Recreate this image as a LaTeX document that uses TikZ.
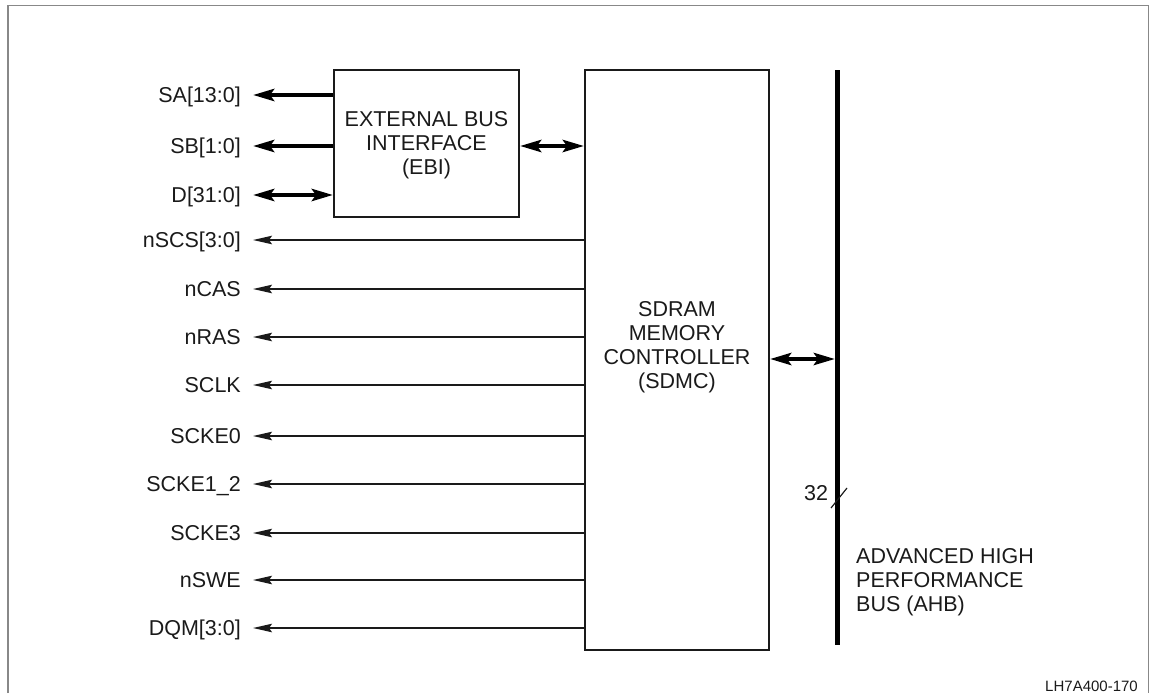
\documentclass[tikz,border=0pt]{standalone}
\usepackage{fontspec}
\setmainfont{Liberation Sans}
\usetikzlibrary{arrows.meta}
\definecolor{ink}{HTML}{1A1A1A}
\definecolor{framegray}{HTML}{888888}
\tikzset{
  box/.style={draw=ink, line width=2pt, inner sep=0pt},
  lbl/.style={anchor=east, inner sep=0pt, text=ink, font=\fontsize{21.5}{24}\selectfont, text height=15.5pt, text depth=0pt},
  txt/.style={inner sep=0pt, text=ink, align=center, font=\fontsize{21.5}{24}\selectfont},
  thickarr/.style={line width=4.5pt, -{Stealth[length=21pt,width=12pt,inset=4pt]}},
  thickbi/.style={line width=4.5pt, {Stealth[length=21pt,width=12pt,inset=4pt]}-{Stealth[length=21pt,width=12pt,inset=4pt]}},
  thinarr/.style={draw=ink, line width=1.6pt, -{Stealth[length=19pt,width=8.5pt,inset=3pt]}},
  busline/.style={line width=5pt, draw=black},
  framestyle/.style={draw=framegray, line width=1.5pt}
}
\begin{document}
\begin{tikzpicture}[x=1pt,y=-1pt]
\useasboundingbox (0,0) rectangle (1150,693);
% frame
\draw[framestyle] (8,693) -- (8,5.5) -- (1148.5,5.5) -- (1148.5,693);

% blocks
\node[box, minimum width=185pt, minimum height=147pt] (ebi) at (426.5,143.5) {};
\node[txt] (ebitext) at (426.5,145) {EXTERNAL BUS\\INTERFACE\\(EBI)};
\node[box, minimum width=184pt, minimum height=580pt] (sdmc) at (677,360) {};
\node[txt] (sdmctext) at (677,347) {SDRAM\\MEMORY\\CONTROLLER\\(SDMC)};

% bus
\coordinate (bustop) at (837,70);
\coordinate (busbot) at (837,645);
\draw[busline] (bustop) -- (busbot);
\coordinate (busarr) at (835,359);
\draw[thickbi] (sdmc.east |- busarr) -- (busarr);
\coordinate (sl1) at (831,508);
\coordinate (sl2) at (847,488);
\draw[ink, line width=1.2pt] (sl1) -- (sl2);
\node[txt] (w32) at (816,493.5) {32};
\node[txt, align=left, anchor=west] (ahb) at (856,582) {ADVANCED HIGH\\PERFORMANCE\\BUS (AHB)};

% EBI <-> SDMC
\draw[thickbi] (ebi.east |- 0,146) -- (sdmc.west |- 0,146);

% EBI signals
\node[lbl] (sa) at (241,95) {SA[13:0]};
\node[lbl] (sb) at (241,146) {SB[1:0]};
\node[lbl] (d) at (241,195) {D[31:0]};
\coordinate (tsa) at (253,95);
\coordinate (tsb) at (253,146);
\coordinate (td) at (253,195);
\draw[thickarr] (ebi.west |- tsa) -- (tsa);
\draw[thickarr] (ebi.west |- tsb) -- (tsb);
\draw[thickbi] (td) -- (ebi.west |- td);

% SDMC signals
\foreach \n/\t/\y in {s1/nSCS[3:0]/240, s2/nCAS/289, s3/nRAS/337, s4/SCLK/385, s5/SCKE0/436, s6/SCKE1\_2/484, s7/SCKE3/533, s8/nSWE/580, s9/DQM[3:0]/628}{
  \node[lbl] (\n) at (241,\y) {\t};
  \coordinate (t\n) at (253,\y);
  \draw[thinarr] (sdmc.west |- t\n) -- (t\n);
}

\node[txt, anchor=east, font=\fontsize{15}{18}\selectfont] (fig) at (1138,686) {LH7A400-170};
\end{tikzpicture}
\end{document}
